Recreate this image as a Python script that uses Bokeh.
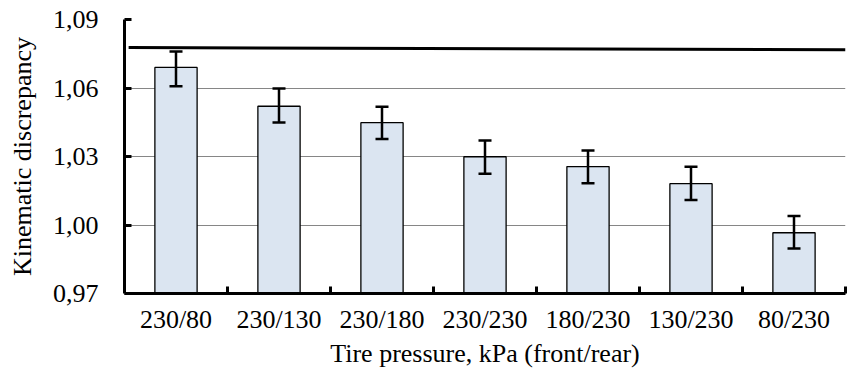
from bokeh.plotting import figure
from bokeh.models import ColumnDataSource, Whisker, TeeHead, FixedTicker, Range1d
from bokeh.embed import file_html
from bokeh.resources import INLINE

categories = ["230/80", "230/130", "230/180", "230/230", "180/230", "130/230", "80/230"]
values = [1.069, 1.052, 1.0448, 1.0299, 1.0256, 1.0181, 0.9966]
err_upper = [1.076, 1.0598, 1.0518, 1.0370, 1.0326, 1.0255, 1.0039]
err_lower = [1.0608, 1.0449, 1.0377, 1.0224, 1.0183, 1.0110, 0.9897]
ref_x = [0.04, 7.0]
ref_y = [1.0777, 1.0768]
y_ticks = [0.97, 1.00, 1.03, 1.06, 1.09]
y_tick_labels = ["0,97", "1,00", "1,03", "1,06", "1,09"]

FONT = "Liberation Serif"
FS = "26px"

xs = [i + 0.5 for i in range(len(categories))]
src = ColumnDataSource(dict(x=xs, top=values, upper=err_upper, lower=err_lower))

p = figure(width=850, height=374, output_backend="svg", toolbar_location=None,
           x_range=Range1d(0, len(categories)), y_range=Range1d(y_ticks[0], y_ticks[-1]),
           min_border_left=124, min_border_right=5, min_border_top=19, min_border_bottom=81)
p.outline_line_color = None
p.background_fill_color = "white"
p.border_fill_color = "white"

p.vbar(x="x", top="top", bottom=y_ticks[0], width=0.41, source=src,
       fill_color="#dbe5f1", line_color="black", line_width=1.3)

w = Whisker(base="x", upper="upper", lower="lower", source=src,
            line_color="black", line_width=2.5, level="overlay",
            upper_head=TeeHead(size=13, line_color="black", line_width=2.5),
            lower_head=TeeHead(size=13, line_color="black", line_width=2.5))
p.add_layout(w)

p.line(ref_x, ref_y, line_color="black", line_width=3)

# x axis
p.xaxis.ticker = FixedTicker(ticks=xs, minor_ticks=list(range(1, len(categories) + 1)))
p.xaxis.major_label_overrides = {x: c for x, c in zip(xs, categories)}
p.xaxis.major_tick_in = 0
p.xaxis.major_tick_out = 0
p.xaxis.minor_tick_in = 7
p.xaxis.minor_tick_out = 0
p.xaxis.minor_tick_line_color = "black"
p.xaxis.minor_tick_line_width = 3
p.xaxis.axis_line_width = 3
p.xaxis.axis_line_color = "black"
p.xaxis.major_label_standoff = 11
p.xaxis.axis_label = "Tire pressure, kPa (front/rear)"
p.xaxis.axis_label_standoff = 2

# y axis
p.yaxis.ticker = FixedTicker(ticks=y_ticks, minor_ticks=[])
p.yaxis.major_label_overrides = {t: l for t, l in zip(y_ticks, y_tick_labels)}
p.yaxis.major_tick_in = 7
p.yaxis.major_tick_out = 0
p.yaxis.major_tick_line_width = 3
p.yaxis.major_tick_line_color = "black"
p.yaxis.minor_tick_line_color = None
p.yaxis.axis_line_width = 3
p.yaxis.axis_line_color = "black"
p.yaxis.major_label_standoff = 26
p.yaxis.axis_label = "Kinematic discrepancy"
p.yaxis.axis_label_standoff = 13

for ax in (p.xaxis[0], p.yaxis[0]):
    ax.major_label_text_font = FONT
    ax.major_label_text_font_size = FS
    ax.major_label_text_color = "black"
    ax.axis_label_text_font = FONT
    ax.axis_label_text_font_size = FS
    ax.axis_label_text_font_style = "normal"
    ax.axis_label_text_color = "black"

p.xgrid.grid_line_color = None
p.ygrid.grid_line_color = "#868686"
p.ygrid.grid_line_width = 1

open("out.html", "w").write(file_html(p, INLINE))
